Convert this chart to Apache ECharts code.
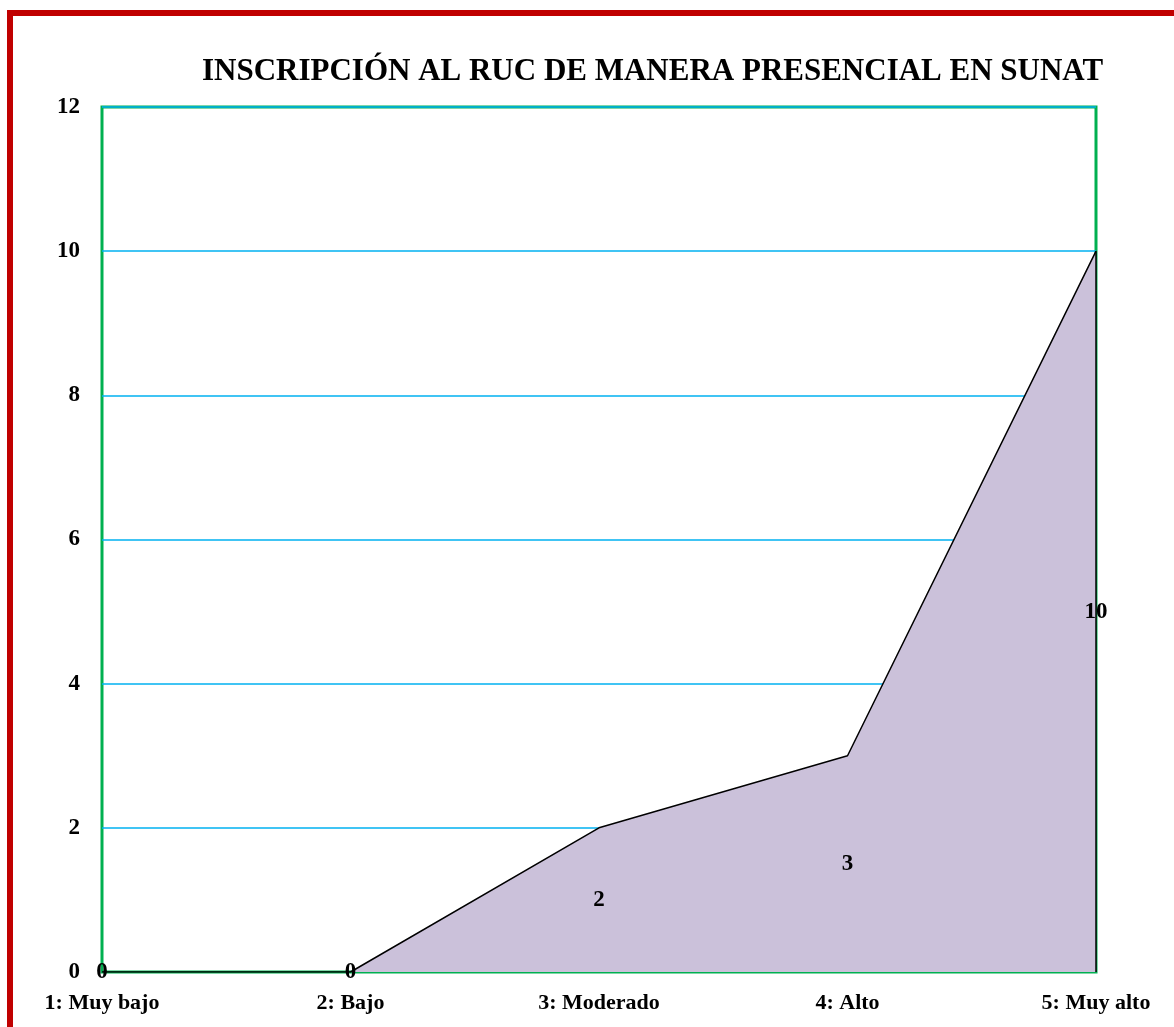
<!DOCTYPE html>
<html>
<head>
<meta charset="utf-8">
<script src="https://cdn.jsdelivr.net/npm/echarts@6/dist/echarts.min.js"></script>
<style>
  html, body { margin: 0; padding: 0; background: #fff; }
  #chart { width: 1174px; height: 1027px; }
</style>
</head>
<body>
<div id="chart"></div>
<script>
// datos del gráfico
const categories = ['1: Muy bajo', '2: Bajo', '3: Moderado', '4: Alto', '5: Muy alto']
const values = [0, 0, 2, 3, 10]
const yTicks = [0, 2, 4, 6, 8, 10, 12]

const titleText = 'INSCRIPCIÓN AL RUC DE MANERA PRESENCIAL EN SUNAT'
const serif = '"Liberation Serif", "DejaVu Serif", serif'

const chart = echarts.init(document.getElementById('chart'))

const option = {
  animation: false,
  backgroundColor: '#fff',
  title: {
    text: titleText,
    left: 197,
    top: 51,
    textStyle: { fontFamily: serif, fontWeight: 'bold', fontSize: 31, color: '#000' }
  },
  // marco rojo exterior
  graphic: [{
    type: 'rect',
    shape: { x: 10, y: 13, width: 1300, height: 1200 },
    style: { fill: null, stroke: '#C00000', lineWidth: 6 },
    z: 100
  }],
  grid: {
    left: 102, right: 78, top: 107, bottom: 55,
    show: true,
    borderColor: '#00B050',
    borderWidth: 3
  },
  xAxis: {
    type: 'category',
    data: categories,
    boundaryGap: false,
    axisLine: { show: true, lineStyle: { color: '#00B050', width: 2 } },
    axisTick: { show: false },
    axisLabel: {
      margin: 20,
      fontFamily: serif, fontWeight: 'bold', fontSize: 22, color: '#000'
    }
  },
  yAxis: {
    type: 'value',
    min: yTicks[0],
    max: yTicks[yTicks.length - 1],
    interval: 2,
    axisLine: { show: false },
    axisTick: { show: false },
    axisLabel: {
      margin: 22,
      fontFamily: serif, fontWeight: 'bold', fontSize: 23, color: '#000'
    },
    splitLine: { lineStyle: { color: '#00B0F0', width: 1.5 } }
  },
  series: [
    {
      // área principal
      type: 'line',
      data: values,
      symbol: 'none',
      lineStyle: { color: '#000', width: 1.5 },
      areaStyle: { color: '#CBC1DA', opacity: 1 },
      markLine: {
        silent: true,
        symbol: 'none',
        label: { show: false },
        lineStyle: { color: '#000', width: 1.5, type: 'solid' },
        data: [[
          { coord: [categories[4], values[4]] },
          { coord: [categories[4], 0] }
        ]]
      },
      z: 2
    },
    {
      // etiquetas de datos a media altura (como en Excel)
      type: 'scatter',
      data: values.map(v => v / 2),
      symbolSize: 1,
      itemStyle: { color: 'rgba(0,0,0,0)' },
      silent: true,
      label: {
        show: true,
        position: 'inside',
        formatter: p => values[p.dataIndex],
        fontFamily: serif, fontWeight: 'bold', fontSize: 23,
        color: '#000', textBorderWidth: 0, opacity: 1
      },
      z: 5
    }
  ]
}

chart.setOption(option)
</script>
</body>
</html>
